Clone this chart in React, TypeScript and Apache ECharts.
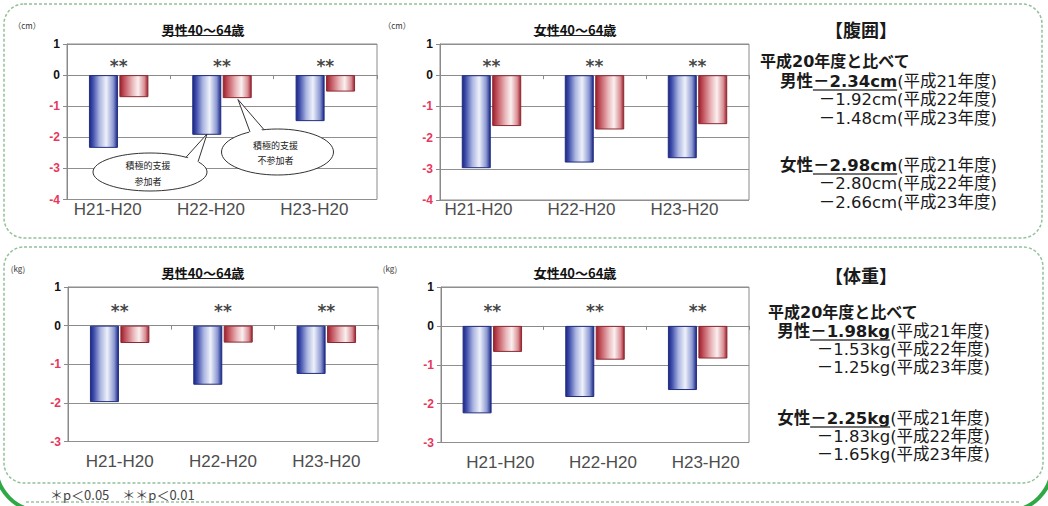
import React, { useEffect, useRef } from "react";
import * as echarts from "echarts";

// 横軸の区分と年度
const categories = ["H21-H20", "H22-H20", "H23-H20"];
const yearLabels = ["平成21年度", "平成22年度", "平成23年度"];
const sigMarks = ["**", "**", "**"];

// 腹囲の変化 (cm)：積極的支援 参加者 / 不参加者
const waistMaleJoin = [-2.34, -1.92, -1.48];
const waistMaleNon = [-0.71, -0.74, -0.53];
const waistFemaleJoin = [-2.98, -2.8, -2.66];
const waistFemaleNon = [-1.63, -1.74, -1.57];

// 体重の変化 (kg)：積極的支援 参加者 / 不参加者
const weightMaleJoin = [-1.98, -1.53, -1.25];
const weightMaleNon = [-0.45, -0.44, -0.45];
const weightFemaleJoin = [-2.25, -1.83, -1.65];
const weightFemaleNon = [-0.67, -0.87, -0.84];

// 有意差マークの高さ（縦軸の値）
const sigLevelWaist = 0.46;
const sigLevelWeight = 0.51;

const RF = '"DejaVu Sans", "Noto Sans CJK JP", sans-serif';
const JF = '"Noto Sans CJK JP", sans-serif';
const AF = '"Liberation Sans", Arial, sans-serif';

const charts = [
  { title: "男性40～64歳", unit: "（cm）", join: waistMaleJoin, non: waistMaleNon, min: -4, sig: sigLevelWaist,
    grid: { left: 67, top: 44, width: 310, height: 155.5 }, titleAt: [203, 29], unitAt: [27, 25], shift: -11, margin: 1 },
  { title: "女性40～64歳", unit: "（cm）", join: waistFemaleJoin, non: waistFemaleNon, min: -4, sig: sigLevelWaist,
    grid: { left: 440, top: 44, width: 309, height: 156 }, titleAt: [575, 29], unitAt: [397, 25], shift: -13, margin: 1 },
  { title: "男性40～64歳", unit: "(kg)", join: weightMaleJoin, non: weightMaleNon, min: -3, sig: sigLevelWeight,
    grid: { left: 68, top: 287, width: 310, height: 154.5 }, titleAt: [203, 272], unitAt: [18, 268], shift: 0, margin: 11 },
  { title: "女性40～64歳", unit: "(kg)", join: weightFemaleJoin, non: weightFemaleNon, min: -3, sig: sigLevelWeight,
    grid: { left: 441, top: 287, width: 308, height: 155.5 }, titleAt: [575, 272], unitAt: [390, 268], shift: 8, margin: 11 },
];

const blueFill = {
  type: "linear", x: 0, y: 0, x2: 1, y2: 0,
  colorStops: [
    { offset: 0, color: "#1b2787" },
    { offset: 0.12, color: "#3e4caa" },
    { offset: 0.36, color: "#aab5e1" },
    { offset: 0.6, color: "#eef1fa" },
    { offset: 0.85, color: "#8c99d2" },
    { offset: 1, color: "#1b2787" },
  ],
};
const redFill = {
  type: "linear", x: 0, y: 0, x2: 1, y2: 0,
  colorStops: [
    { offset: 0, color: "#9b1f2c" },
    { offset: 0.15, color: "#c0505a" },
    { offset: 0.45, color: "#eab8bb" },
    { offset: 0.65, color: "#faf0f0" },
    { offset: 0.88, color: "#d88c92" },
    { offset: 1, color: "#9b1f2c" },
  ],
};

export default function App() {
  const ref = useRef<HTMLDivElement>(null);

  useEffect(() => {
    document.body.style.margin = "0";
    const el = ref.current!;
    const chart = echarts.init(el, null, { renderer: "svg" });
    const ctx = document.createElement("canvas").getContext("2d")!;
    const measure = (text: string, size: number, weight: string, family: string) => {
      ctx.font = `${weight} ${size}px ${family}`;
      return ctx.measureText(text).width;
    };

    const text = (x: number, y: number, t: string, o: any = {}) => ({
      type: "text", x, y, z: o.z ?? 50, silent: true,
      style: {
        text: t,
        fontSize: o.size ?? 12,
        fontWeight: o.weight ?? "normal",
        fontFamily: o.family ?? JF,
        fill: o.fill ?? "#1a1a1a",
        align: o.align ?? "left",
        verticalAlign: "middle",
        lineHeight: o.lineHeight,
      },
    });
    const hline = (x1: number, x2: number, y: number, w = 1.2, color = "#333", dash?: number[]) => ({
      type: "line", z: 50, silent: true,
      shape: { x1, y1: y, x2, y2: y },
      style: { stroke: color, lineWidth: w, lineDash: dash },
    });

    const graphics: any[] = [];

    // 外枠と囲み
    graphics.push({ type: "rect", z: 1, silent: true, shape: { x: -4, y: -100, width: 1056, height: 611, r: 45 },
      style: { fill: "none", stroke: "#2fa846", lineWidth: 4 } });
    graphics.push(hline(26, 1020, 502, 1.3, "#9cc4a0", [3, 2]));
    graphics.push({ type: "rect", z: 1, silent: true, shape: { x: 4, y: 4, width: 1038, height: 234, r: 20 },
      style: { fill: "none", stroke: "#93c09a", lineWidth: 1.5, lineDash: [3, 2] } });
    graphics.push({ type: "rect", z: 1, silent: true, shape: { x: 4, y: 247, width: 1039, height: 236, r: 20 },
      style: { fill: "none", stroke: "#93c09a", lineWidth: 1.5, lineDash: [3, 2] } });

    // グラフの見出し・単位
    charts.forEach((c) => {
      const [tx, ty] = c.titleAt;
      const w = measure(c.title, 13, "bold", JF);
      graphics.push(text(tx, ty, c.title, { size: 13, weight: "bold", align: "center", fill: "#111" }));
      graphics.push(hline(tx - w / 2, tx + w / 2, ty + 6.5, 1, "#222"));
      graphics.push(text(c.unitAt[0], c.unitAt[1], c.unit, { size: 8, align: "center", fill: "#333" }));
    });

    // 吹き出し
    const callout = (cx: number, cy: number, rx: number, ry: number, tip: number[], baseX: number[], label: string, lh: number) => {
      const base = baseX.map((x) => {
        const k = (x - cx) / rx;
        return [x, cy - ry * Math.sqrt(Math.max(0, 1 - k * k))];
      });
      graphics.push({ type: "ellipse", z: 100, silent: true, shape: { cx, cy, rx, ry },
        style: { fill: "#fff", stroke: "#333", lineWidth: 1 } });
      graphics.push({ type: "polygon", z: 101, silent: true,
        shape: { points: [[base[0][0], base[0][1] + 3], tip, [base[1][0], base[1][1] + 3]] },
        style: { fill: "#fff" } });
      graphics.push({ type: "polyline", z: 102, silent: true,
        shape: { points: [base[0], tip, base[1]] },
        style: { fill: null, stroke: "#333", lineWidth: 1 } });
      graphics.push(text(cx - 2, cy + 1, label, { size: 9, align: "center", z: 103, lineHeight: lh, fill: "#222" }));
    };
    callout(150, 172, 57, 19, [207, 134], [186, 198], "積極的支援\n参加者", 16);
    callout(277.5, 152, 56, 23, [238, 99.5], [250, 264], "積極的支援\n不参加者", 15);

    // 右側のまとめ
    const S = 16.5;
    const summary = (who: string, vals: number[], unit: string, right: number, y0: number, dy: number) => {
      const first = `－${Math.abs(vals[0]).toFixed(2)}${unit}`;
      const yr0 = `(${yearLabels[0]})`;
      const wYr = measure(yr0, S, "normal", RF);
      const wVal = measure(first, S, "bold", RF);
      graphics.push(text(right, y0, yr0, { size: S, family: RF, align: "right" }));
      graphics.push(text(right - wYr, y0, first, { size: S, family: RF, weight: "bold", align: "right" }));
      graphics.push(text(right - wYr - wVal, y0, who, { size: S, family: RF, weight: "bold", align: "right" }));
      graphics.push(hline(right - wYr - wVal, right - wYr, y0 + 9, 1.3, "#444"));
      for (let i = 1; i < vals.length; i++) {
        const t = `－${Math.abs(vals[i]).toFixed(2)}${unit}(${yearLabels[i]})`;
        graphics.push(text(right, y0 + dy * i, t, { size: S, family: RF, align: "right" }));
      }
    };

    graphics.push(text(861, 29, "【腹囲】", { size: 18, weight: "bold", family: JF, align: "center" }));
    graphics.push(text(760, 61, "平成20年度と比べて", { size: 16, weight: "bold", family: RF }));
    summary("男性", waistMaleJoin, "cm", 997, 81, 18.5);
    summary("女性", waistFemaleJoin, "cm", 997, 165, 18.5);

    graphics.push(text(861, 275, "【体重】", { size: 18, weight: "bold", family: JF, align: "center" }));
    graphics.push(text(768, 312, "平成20年度と比べて", { size: 16, weight: "bold", family: RF }));
    summary("男性", weightMaleJoin, "kg", 990, 331, 18);
    summary("女性", weightFemaleJoin, "kg", 990, 418, 18);

    graphics.push(text(50, 494, "＊p＜0.05　＊＊p＜0.01", { size: 13, fill: "#444" }));

    const grids: any[] = [];
    const xAxes: any[] = [];
    const yAxes: any[] = [];
    const series: any[] = [];

    charts.forEach((c, i) => {
      grids.push({ ...c.grid, show: true, borderColor: "#8a8a8a", borderWidth: 1, backgroundColor: "#fff" });
      const pad = c.shift < 0 ? [0, -2 * c.shift, 0, 0] : [0, 0, 0, 2 * c.shift];
      xAxes.push({
        type: "category", gridIndex: i, data: categories, position: "bottom",
        axisLine: { show: false, onZero: false }, axisTick: { show: false }, splitLine: { show: false },
        axisLabel: { fontSize: 17, fontFamily: AF, color: "#4d4d4d", margin: c.margin, padding: pad },
      });
      xAxes.push({
        type: "category", gridIndex: i, data: categories, position: "bottom",
        axisLine: { show: true, onZero: true, lineStyle: { color: "#8a8a8a" } },
        axisTick: { show: true, length: 4, lineStyle: { color: "#8a8a8a" } },
        axisLabel: { show: false }, splitLine: { show: false },
      });
      yAxes.push({
        type: "value", gridIndex: i, min: c.min, max: 1, interval: 1,
        axisLine: { show: true, lineStyle: { color: "#8a8a8a" } },
        axisTick: { show: true, length: 4, lineStyle: { color: "#8a8a8a" } },
        splitLine: { show: true, lineStyle: { color: "#8f8f8f", width: 1 } },
        axisLabel: {
          fontSize: 12, fontWeight: "bold", fontFamily: AF, margin: 7,
          color: (v: any) => (Number(v) < 0 ? "#e8365d" : "#111"),
        },
      });
      series.push({
        type: "bar", name: "積極的支援参加者", xAxisIndex: 2 * i, yAxisIndex: i, data: c.join,
        barWidth: 29, barGap: "5%", silent: true,
        itemStyle: { color: blueFill, borderColor: "#222e7e", borderWidth: 1 },
      });
      series.push({
        type: "bar", name: "積極的支援不参加者", xAxisIndex: 2 * i, yAxisIndex: i, data: c.non,
        barWidth: 29, barGap: "5%", silent: true,
        itemStyle: { color: redFill, borderColor: "#8c2a33", borderWidth: 1 },
      });
      series.push({
        type: "scatter", xAxisIndex: 2 * i, yAxisIndex: i, data: sigMarks.map(() => c.sig),
        symbolSize: 1, silent: true, itemStyle: { color: "rgba(0,0,0,0)" },
        label: {
          show: true, position: "inside", offset: [0, 5], formatter: (p: any) => sigMarks[p.dataIndex],
          fontSize: 17, fontWeight: "bold", fontFamily: '"DejaVu Sans", sans-serif', color: "#111",
        },
      });
    });

    chart.setOption({
      animation: false,
      backgroundColor: "#fff",
      grid: grids,
      xAxis: xAxes,
      yAxis: yAxes,
      series,
      graphic: { elements: graphics },
    });

    return () => chart.dispose();
  }, []);

  return <div ref={ref} style={{ width: 1048, height: 506 }} />;
}
